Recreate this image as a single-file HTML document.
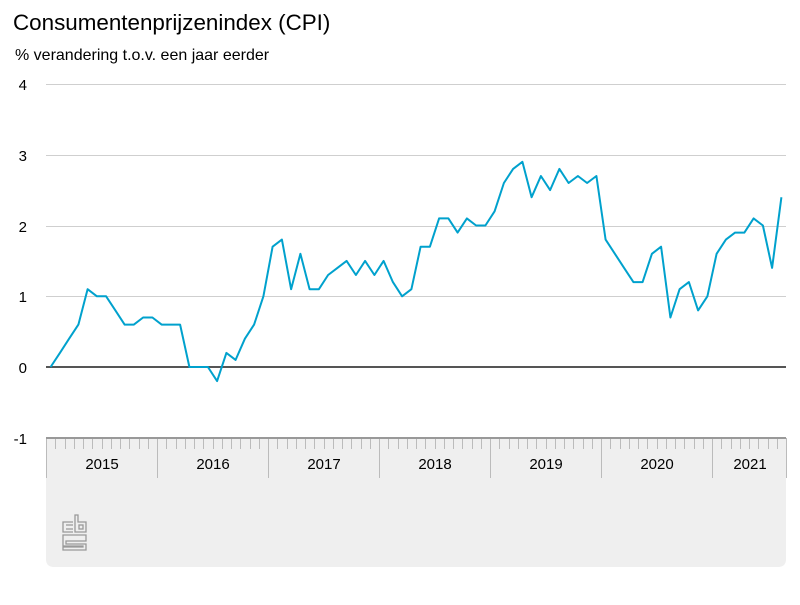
<!DOCTYPE html>
<html><head><meta charset="utf-8"><style>
html,body{margin:0;padding:0;background:#fff;}
body{width:800px;height:600px;overflow:hidden;font-family:"Liberation Sans",sans-serif;}
</style></head><body>
<svg id="s" width="800" height="600" xmlns="http://www.w3.org/2000/svg" font-family="Liberation Sans, sans-serif">
<text x="13" y="30" font-size="22.4" fill="#000">Consumentenprijzenindex (CPI)</text>
<text x="15" y="60" font-size="16" fill="#000">% verandering t.o.v. een jaar eerder</text>
<path d="M46 438 H786 V559 Q786 567 778 567 H54 Q46 567 46 559 Z" fill="#efefef"/>
<g stroke="#cfcfcf" stroke-width="1">
<line x1="46" y1="84.5" x2="786" y2="84.5"/>
<line x1="46" y1="155.5" x2="786" y2="155.5"/>
<line x1="46" y1="226.5" x2="786" y2="226.5"/>
<line x1="46" y1="296.5" x2="786" y2="296.5"/>
</g>
<g font-size="15" fill="#000" text-anchor="end">
<text x="27" y="90">4</text><text x="27" y="161">3</text><text x="27" y="232">2</text>
<text x="27" y="302">1</text><text x="27" y="373">0</text><text x="27" y="444">-1</text>
</g>
<g id="ticks" stroke="#bbb" stroke-width="1"></g>
<line x1="46" y1="438" x2="786" y2="438" stroke="#999" stroke-width="2"/>
<g font-size="15" fill="#000" text-anchor="middle">
<text x="102" y="469">2015</text><text x="213" y="469">2016</text><text x="324" y="469">2017</text>
<text x="435" y="469">2018</text><text x="546" y="469">2019</text><text x="657" y="469">2020</text>
<text x="750" y="469">2021</text>
</g>
<line x1="46" y1="367" x2="786" y2="367" stroke="#555" stroke-width="2"/>
<polyline id="ln" fill="none" stroke="#00a1cd" stroke-width="2" stroke-linejoin="round"/>
<g fill="none" stroke="#999" stroke-width="1.3">
<path d="M73 522 H63 V532 H73"/>
<path d="M66 525 H73 M66 529 H73"/>
<path d="M75 515 V532 H86 V522 H78 V515 Z"/>
<rect x="79" y="525" width="4" height="4"/>
<path d="M63 535 H86 V541 H66 V544 H86 V550 H63 V547 H83 V546 H63 Z"/>
</g>
</svg>
<script>
var d=[0.0,0.2,0.4,0.6,1.1,1.0,1.0,0.8,0.6,0.6,0.7,0.7,
0.6,0.6,0.6,0.0,0.0,0.0,-0.2,0.2,0.1,0.4,0.6,1.0,
1.7,1.8,1.1,1.6,1.1,1.1,1.3,1.4,1.5,1.3,1.5,1.3,
1.5,1.2,1.0,1.1,1.7,1.7,2.1,2.1,1.9,2.1,2.0,2.0,
2.2,2.6,2.8,2.9,2.4,2.7,2.5,2.8,2.6,2.7,2.6,2.7,
1.8,1.6,1.4,1.2,1.2,1.6,1.7,0.7,1.1,1.2,0.8,1.0,
1.6,1.8,1.9,1.9,2.1,2.0,1.4,2.4];
var p=d.map(function(v,i){return (46+9.25*(i+0.5)).toFixed(1)+","+(367-70.75*v).toFixed(1)}).join(" ");
document.getElementById("ln").setAttribute("points",p);
var t="";
for(var i=0;i<=80;i++){var x=(46+9.25*i);var xs=Math.round(x)+0.5;var big=(i%12==0)||i==80;
t+='<line x1="'+xs+'" y1="438" x2="'+xs+'" y2="'+(big?478:449)+'"/>';}
document.getElementById("ticks").innerHTML=t;
</script>
</body></html>
